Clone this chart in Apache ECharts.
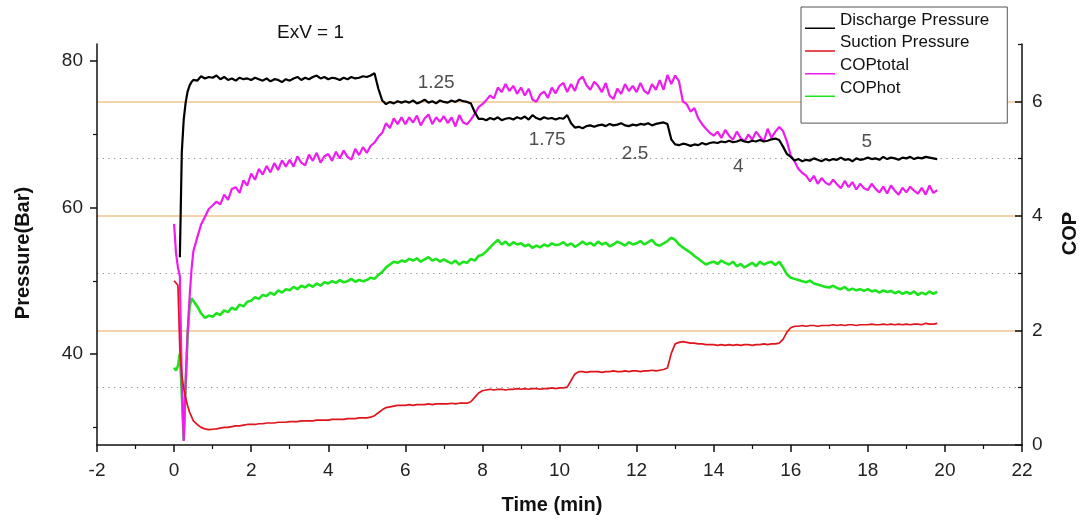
<!DOCTYPE html>
<html><head><meta charset="utf-8">
<script src="https://cdn.jsdelivr.net/npm/echarts@6/dist/echarts.min.js"></script>
<style>html,body{margin:0;padding:0;background:#fff}#c{width:1086px;height:520px}</style>
</head><body><div id="c"></div>
<script>
// ---- data (time in minutes) ----
const timeMin = [0,0.05,0.1,0.15,0.2,0.25,0.3,0.35,0.4,0.45,
0.5,0.6,0.7,0.8,0.9,
1,1.1,1.2,1.3,1.4,1.5,1.6,1.7,1.8,1.9,
2,2.1,2.2,2.3,2.4,2.5,2.6,2.7,2.8,2.9,
3,3.1,3.2,3.3,3.4,3.5,3.6,3.7,3.8,3.9,
4,4.1,4.2,4.3,4.4,4.5,4.6,4.7,4.8,4.9,
5,5.1,5.2,5.3,5.4,5.5,5.6,5.7,5.8,5.9,
6,6.1,6.2,6.3,6.4,6.5,6.6,6.7,6.8,6.9,
7,7.1,7.2,7.3,7.4,7.5,7.6,7.7,7.8,7.9,
8,8.1,8.2,8.3,8.4,8.5,8.6,8.7,8.8,8.9,
9,9.1,9.2,9.3,9.4,9.5,9.6,9.7,9.8,9.9,
10,10.1,10.2,10.3,10.4,10.5,10.6,10.7,10.8,10.9,
11,11.1,11.2,11.3,11.4,11.5,11.6,11.7,11.8,11.9,
12,12.1,12.2,12.3,12.4,12.5,12.6,12.7,12.8,12.9,
13,13.1,13.2,13.3,13.4,13.5,13.6,13.7,13.8,13.9,
14,14.1,14.2,14.3,14.4,14.5,14.6,14.7,14.8,14.9,
15,15.1,15.2,15.3,15.4,15.5,15.6,15.7,15.8,15.9,
16,16.1,16.2,16.3,16.4,16.5,16.6,16.7,16.8,16.9,
17,17.1,17.2,17.3,17.4,17.5,17.6,17.7,17.8,17.9,
18,18.1,18.2,18.3,18.4,18.5,18.6,18.7,18.8,18.9,
19,19.1,19.2,19.3,19.4,19.5,19.6,19.7,19.8];

const dischargePressure = [null,null,null,53.2,67.5,72.0,74.3,75.8,76.6,77.1,
77.4,77.3,77.9,77.6,77.8,
77.7,78.0,77.5,77.8,77.4,77.6,77.3,77.7,77.5,77.6,
77.4,77.7,77.5,77.3,77.6,77.2,77.5,77.4,77.1,77.5,
77.3,77.6,77.8,77.4,77.7,77.5,77.8,78.0,77.6,77.8,
77.5,77.7,77.6,77.4,77.7,77.5,77.8,77.6,77.7,77.9,
77.8,78.0,78.3,76.2,74.6,74.1,74.4,74.2,74.5,74.3,
74.5,74.3,74.6,74.2,74.4,74.7,74.3,74.5,74.2,74.6,
74.4,74.3,74.6,74.4,74.7,74.5,74.4,74.2,73.0,72.1,
72.1,71.9,72.2,72.0,72.3,71.9,72.1,72.2,72.0,72.3,
72.1,72.4,72.0,72.6,72.2,72.0,72.3,72.1,72.2,72.0,
72.2,72.1,72.6,71.5,70.9,71.0,70.8,71.1,71.2,71.0,
71.2,71.3,71.1,71.4,71.2,71.3,71.5,71.2,71.1,71.3,
71.2,71.4,71.3,71.5,71.2,71.4,71.5,71.6,71.4,69.3,
68.6,68.5,68.7,68.6,68.4,68.6,68.5,68.8,68.6,68.8,
68.9,68.8,69.0,68.9,69.1,68.9,69.0,69.2,69.0,68.9,
69.1,69.0,69.2,69.0,69.1,69.3,69.4,69.2,68.3,67.3,
66.9,66.4,66.6,66.3,66.5,66.4,66.7,66.5,66.3,66.6,
66.4,66.6,66.5,66.8,66.5,66.6,66.3,66.7,66.5,66.6,
66.8,66.6,66.7,66.5,66.9,66.6,66.8,66.7,66.5,66.8,
66.7,66.9,66.6,66.8,66.7,66.9,66.8,66.7,66.6];

const suctionPressure = [50.0,50.1,49.4,40.5,37.2,35.3,34.0,33.0,32.1,31.5,
30.9,30.4,30.0,29.8,29.7,
29.75,29.8,29.9,30.0,30.0,30.1,30.2,30.2,30.3,30.4,
30.4,30.4,30.5,30.5,30.6,30.6,30.6,30.7,30.7,30.7,
30.8,30.8,30.8,30.9,30.9,30.9,30.9,31.0,31.0,31.0,
31.0,31.1,31.1,31.1,31.1,31.2,31.2,31.2,31.3,31.3,
31.3,31.4,31.6,32.0,32.4,32.7,32.8,32.9,33.0,33.0,
33.0,33.1,33.0,33.1,33.1,33.1,33.2,33.1,33.2,33.2,
33.2,33.2,33.3,33.2,33.3,33.3,33.3,33.5,34.1,34.7,
35.0,35.1,35.2,35.1,35.2,35.2,35.1,35.2,35.2,35.3,
35.2,35.3,35.2,35.3,35.3,35.2,35.3,35.3,35.4,35.3,
35.4,35.4,35.5,36.4,37.3,37.6,37.6,37.5,37.6,37.6,
37.6,37.5,37.6,37.6,37.7,37.6,37.6,37.7,37.6,37.7,
37.7,37.6,37.7,37.7,37.8,37.7,37.8,37.9,38.1,40.1,
41.4,41.6,41.7,41.6,41.5,41.5,41.4,41.4,41.3,41.3,
41.3,41.2,41.3,41.2,41.3,41.2,41.3,41.2,41.3,41.3,
41.2,41.3,41.3,41.4,41.3,41.4,41.4,41.5,42.0,43.0,
43.6,43.8,43.8,43.9,43.8,43.9,43.9,43.8,43.9,43.9,
43.9,44.0,43.9,44.0,43.9,44.0,44.0,43.9,44.0,44.0,
44.0,44.1,44.0,44.0,44.1,44.0,44.1,44.0,44.1,44.0,
44.1,44.0,44.1,44.1,44.0,44.2,44.1,44.1,44.2];

const copTotal = [3.86,3.35,3.1,2.95,1.1,0.07,1.1,1.95,2.55,3.05,
3.38,3.62,3.85,3.98,4.12,
4.18,4.25,4.2,4.37,4.28,4.47,4.5,4.4,4.62,4.53,
4.74,4.63,4.82,4.72,4.87,4.76,4.92,4.8,4.97,4.86,
4.98,4.86,5.04,4.93,4.88,5.07,4.96,5.1,4.93,5.04,
5.08,4.96,5.12,5.0,5.14,5.03,4.98,5.17,5.06,5.2,
5.1,5.22,5.28,5.38,5.45,5.62,5.53,5.7,5.6,5.72,
5.6,5.72,5.63,5.75,5.58,5.7,5.77,5.6,5.72,5.64,
5.74,5.62,5.72,5.56,5.76,5.63,5.6,5.68,5.78,5.9,
5.95,6.02,6.1,6.05,6.24,6.16,6.3,6.18,6.27,6.13,
6.24,6.1,6.22,6.03,5.99,6.12,6.17,6.06,6.24,6.14,
6.27,6.32,6.16,6.3,6.18,6.37,6.43,6.28,6.2,6.34,
6.27,6.16,6.32,6.1,6.04,6.22,6.13,6.3,6.18,6.27,
6.16,6.32,6.18,6.13,6.3,6.2,6.37,6.2,6.46,6.3,
6.45,6.35,6.0,5.95,5.82,5.88,5.7,5.6,5.52,5.45,
5.4,5.47,5.36,5.5,5.4,5.33,5.47,5.36,5.3,5.42,
5.33,5.47,5.38,5.3,5.52,5.36,5.47,5.55,5.48,5.3,
5.05,4.95,4.82,4.75,4.7,4.6,4.7,4.56,4.66,4.58,
4.54,4.63,4.55,4.48,4.61,4.5,4.59,4.46,4.56,4.48,
4.45,4.56,4.47,4.41,4.51,4.39,4.53,4.44,4.37,4.49,
4.41,4.51,4.44,4.39,4.49,4.37,4.53,4.4,4.45];

const copHot = [1.35,1.3,1.38,1.6,0.9,0.08,1.05,1.9,2.4,2.56,
2.55,2.42,2.3,2.22,2.26,
2.24,2.3,2.27,2.35,2.32,2.4,2.36,2.45,2.42,2.5,
2.52,2.58,2.55,2.62,2.6,2.66,2.62,2.7,2.66,2.72,
2.7,2.76,2.72,2.78,2.75,2.8,2.76,2.82,2.78,2.84,
2.82,2.86,2.83,2.88,2.84,2.86,2.9,2.85,2.88,2.86,
2.88,2.92,2.9,2.97,3.02,3.1,3.15,3.2,3.18,3.22,
3.2,3.25,3.22,3.26,3.2,3.24,3.28,3.22,3.25,3.2,
3.24,3.2,3.17,3.22,3.15,3.2,3.18,3.25,3.22,3.3,
3.32,3.38,3.45,3.52,3.58,3.5,3.55,3.48,3.54,3.5,
3.52,3.47,3.5,3.44,3.48,3.45,3.5,3.47,3.52,3.49,
3.5,3.54,3.48,3.52,3.46,3.5,3.55,3.5,3.53,3.48,
3.55,3.5,3.53,3.47,3.5,3.55,3.52,3.48,3.54,3.5,
3.52,3.56,3.5,3.54,3.58,3.5,3.48,3.52,3.56,3.62,
3.58,3.5,3.45,3.4,3.36,3.3,3.25,3.2,3.15,3.18,
3.2,3.16,3.22,3.18,3.15,3.2,3.12,3.16,3.1,3.14,
3.18,3.12,3.2,3.15,3.18,3.2,3.14,3.2,3.1,2.98,
2.92,2.9,2.88,2.86,2.84,2.87,2.82,2.8,2.78,2.76,
2.75,2.78,2.74,2.72,2.76,2.7,2.73,2.7,2.72,2.69,
2.72,2.68,2.7,2.66,2.7,2.67,2.69,2.65,2.68,2.64,
2.67,2.64,2.68,2.62,2.66,2.63,2.68,2.64,2.67];

const seriesNames = ['Discharge Pressure','Suction Pressure','COPtotal','COPhot'];
const pressureLabelTicks = [40,60,80];
const pressureMinorTicks = [30,50,70];
const copLabelTicks = [0,2,4,6];
const copMinorTicks = [1,3,5,7];
const noteText = ['1.25','1.75','2.5','4','5'];
const noteTime = [6.8,9.68,11.96,14.64,17.97];
const notePressure = [77.0,69.2,67.3,65.6,68.9];

// ---- chart ----
const FONT = '"Liberation Sans", Arial, sans-serif';
const AX = '#111';
const pair = vals => timeMin.map((t,i) => [t, vals[i]]);
const solidGrid = '#f2c48e', dotGrid = '#8a8a8a', T = 'rgba(0,0,0,0)';
const chart = echarts.init(document.getElementById('c'), null, {renderer:'canvas'});
chart.setOption({
  animation:false,
  backgroundColor:'#fff',
  textStyle:{fontFamily:FONT},
  title:{text:'ExV = 1', left:277, top:23, padding:0,
    textStyle:{fontSize:19, fontWeight:'normal', color:'#111', fontFamily:FONT}},
  grid:{left:97, right:64, top:44, bottom:75, containLabel:false, outerBoundsMode:'none'},
  legend:{
    orient:'vertical', left:801, top:7, padding:[3,18,25,4], itemGap:2.7,
    itemWidth:30, itemHeight:20, selectedMode:false,
    icon:'path://M0,0L0.01,0L0,0.01Z M0,17.5L30,17.5L30,19L0,19Z M30,20L29.99,20L30,19.99Z',
    itemStyle:{borderWidth:0},
    backgroundColor:'#fff', borderColor:'#555', borderWidth:1,
    data:seriesNames,
    textStyle:{fontSize:17, color:'#111', lineHeight:18, fontFamily:FONT}
  },
  xAxis:{
    type:'value', min:-2, max:22, interval:2,
    axisLine:{onZero:false, lineStyle:{color:AX, width:1.5}},
    axisTick:{length:7, lineStyle:{color:AX, width:1.5}},
    minorTick:{show:true, splitNumber:2, length:4, lineStyle:{color:AX, width:1.2}},
    splitLine:{show:false}, minorSplitLine:{show:false},
    axisLabel:{fontSize:19, color:'#222', margin:16, fontFamily:FONT},
    name:'Time (min)', nameLocation:'middle', nameGap:50,
    nameTextStyle:{fontSize:20, fontWeight:'bold', color:'#111', padding:[0,15,0,0], fontFamily:FONT}
  },
  yAxis:[
    { // 0 pressure main
      type:'value', position:'left', min:27.6, max:82.3,
      axisLine:{show:true, onZero:false, lineStyle:{color:AX, width:1.5}},
      axisTick:{show:true, customValues:pressureLabelTicks, length:7, lineStyle:{color:AX, width:1.5}},
      axisLabel:{show:true, customValues:pressureLabelTicks, fontSize:19, color:'#222', margin:14, fontFamily:FONT},
      splitLine:{show:false},
      name:'Pressure(Bar)', nameLocation:'middle', nameGap:64,
      nameTextStyle:{fontSize:20, fontWeight:'bold', color:'#111', padding:[0,17,0,0], fontFamily:FONT}
    },
    { // 1 pressure minor ticks
      type:'value', position:'left', min:27.6, max:82.3,
      axisLine:{show:false, onZero:false},
      axisTick:{show:true, customValues:pressureMinorTicks, length:4, lineStyle:{color:AX, width:1.2}},
      axisLabel:{show:false}, splitLine:{show:false}
    },
    { // 2 COP main
      type:'value', position:'right', min:0, max:7,
      axisLine:{show:true, onZero:false, lineStyle:{color:AX, width:1.5}},
      axisTick:{show:true, inside:true, customValues:copLabelTicks, length:7, lineStyle:{color:AX, width:1.5}},
      axisLabel:{show:true, customValues:copLabelTicks, fontSize:19, color:'#222', margin:10, fontFamily:FONT},
      splitLine:{show:false},
      name:'COP', nameLocation:'middle', nameGap:38,
      nameTextStyle:{fontSize:20, fontWeight:'bold', color:'#111', padding:[0,0,0,22], fontFamily:FONT}
    },
    { // 3 COP minor ticks
      type:'value', position:'right', min:0, max:7,
      axisLine:{show:false, onZero:false},
      axisTick:{show:true, inside:true, customValues:copMinorTicks, length:4, lineStyle:{color:AX, width:1.2}},
      axisLabel:{show:false}, splitLine:{show:false}
    },
    { // 4 COP solid grid lines
      type:'value', position:'right', min:0, max:7, interval:1,
      axisLine:{show:false, onZero:false}, axisTick:{show:false}, axisLabel:{show:false},
      splitLine:{show:true, lineStyle:{color:[T,T,solidGrid,T,solidGrid,T,solidGrid,T], width:1.5, type:'solid'}}
    },
    { // 5 COP dotted grid lines
      type:'value', position:'right', min:0, max:7, interval:1,
      axisLine:{show:false, onZero:false}, axisTick:{show:false}, axisLabel:{show:false},
      splitLine:{show:true, lineStyle:{color:[T,dotGrid,T,dotGrid,T,dotGrid,T,T], width:1.2, type:[1.2,4.5]}}
    }
  ],
  series:[
    {name:'COPhot', type:'line', yAxisIndex:2, data:pair(copHot), symbol:'none', showSymbol:false,
      color:'#1ee41e', lineStyle:{width:2.6}, silent:true},
    {name:'COPtotal', type:'line', yAxisIndex:2, data:pair(copTotal), symbol:'none', showSymbol:false,
      color:'#ee1cee', lineStyle:{width:2.2}, silent:true},
    {name:'Suction Pressure', type:'line', yAxisIndex:0, data:pair(suctionPressure), symbol:'none', showSymbol:false,
      color:'#e0141b', lineStyle:{width:1.7}, silent:true},
    {name:'Discharge Pressure', type:'line', yAxisIndex:0, data:pair(dischargePressure), symbol:'none', showSymbol:false,
      color:'#000000', lineStyle:{width:2.2}, silent:true},
    {name:'notes', type:'scatter', yAxisIndex:0, silent:true, z:5,
      data:noteTime.map((t,i) => [t, notePressure[i], noteText[i]]),
      symbolSize:1, itemStyle:{color:T},
      label:{show:true, position:'inside', formatter:p => p.data[2], fontSize:19, color:'#222', fontFamily:FONT}}
  ]
});
</script></body></html>
